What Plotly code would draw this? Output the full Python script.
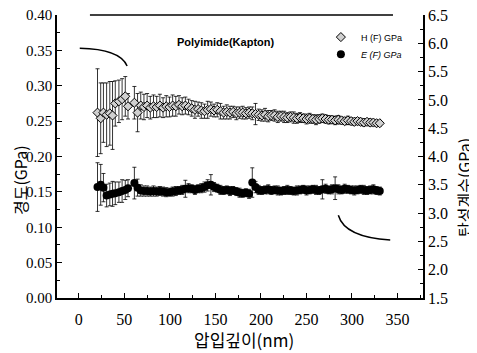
import plotly.graph_objects as go

depth = [20.5, 24, 27, 30.5, 34, 37, 40, 44, 47.5, 51, 54,
         61, 64.5, 68, 71.5, 75, 78.5, 82, 85.5, 89, 92.5,
         96, 99.5, 103, 106.5, 110, 113.5, 117, 120.5, 124, 127.5,
         131, 134.5, 138, 141.5, 145, 148.5, 152, 155.5, 159, 162.5,
         166, 169.5, 173, 176.5, 180, 183.5, 187, 190.5, 194, 197.5,
         201, 204.5, 208, 211.5, 215, 218.5, 222, 225.5, 229, 232.5,
         236, 239.5, 243, 246.5, 250, 253.5, 257, 260.5, 264, 267.5,
         271, 274.5, 278, 281.5, 285, 288.5, 292, 295.5, 299, 302.5,
         306, 309.5, 313, 316.5, 320, 323.5, 327, 330.5]

hardness = [0.262, 0.254, 0.262, 0.259, 0.261, 0.258, 0.275, 0.278, 0.281, 0.285, 0.271,
            0.276, 0.262, 0.272, 0.270, 0.272, 0.269, 0.271, 0.270, 0.272, 0.269,
            0.271, 0.270, 0.272, 0.271, 0.273, 0.271, 0.272, 0.270, 0.268, 0.266,
            0.267, 0.265, 0.264, 0.266, 0.267, 0.265, 0.266, 0.264, 0.262, 0.263,
            0.262, 0.263, 0.261, 0.262, 0.262, 0.261, 0.262, 0.261, 0.260, 0.259,
            0.258, 0.259, 0.257, 0.258, 0.258, 0.256, 0.257, 0.256, 0.255, 0.256,
            0.255, 0.254, 0.255, 0.254, 0.253, 0.254, 0.253, 0.252, 0.253, 0.254,
            0.253, 0.252, 0.252, 0.251, 0.252, 0.251, 0.250, 0.251, 0.250, 0.249,
            0.250, 0.249, 0.248, 0.249, 0.248, 0.248, 0.247, 0.247]

hardness_err = [0.062, 0.050, 0.042, 0.045, 0.045, 0.048, 0.032, 0.030, 0.029, 0.028, 0.018,
                0.023, 0.027, 0.019, 0.018, 0.017, 0.016, 0.016, 0.015, 0.016, 0.014,
                0.015, 0.014, 0.015, 0.014, 0.013, 0.012, 0.012, 0.011, 0.011, 0.012,
                0.010, 0.011, 0.010, 0.012, 0.010, 0.009, 0.010, 0.011, 0.009, 0.010,
                0.009, 0.008, 0.009, 0.008, 0.009, 0.008, 0.008, 0.009, 0.015, 0.008,
                0.008, 0.009, 0.008, 0.007, 0.008, 0.008, 0.007, 0.008, 0.007, 0.007,
                0.008, 0.007, 0.007, 0.006, 0.007, 0.007, 0.006, 0.007, 0.006, 0.006,
                0.006, 0.006, 0.005, 0.006, 0.006, 0.005, 0.005, 0.006, 0.005, 0.005,
                0.005, 0.005, 0.005, 0.004, 0.005, 0.004, 0.004, 0.004]

modulus = [3.46, 3.50, 3.45, 3.31, 3.33, 3.34, 3.35, 3.37, 3.39, 3.41, 3.44,
           3.53, 3.45, 3.40, 3.39, 3.39, 3.38, 3.39, 3.38, 3.39, 3.38,
           3.37, 3.37, 3.38, 3.39, 3.40, 3.41, 3.43, 3.44, 3.43, 3.41,
           3.43, 3.44, 3.46, 3.49, 3.50, 3.46, 3.44, 3.41, 3.40, 3.41,
           3.39, 3.40, 3.38, 3.36, 3.35, 3.36, 3.34, 3.54, 3.46, 3.41,
           3.40, 3.41, 3.42, 3.40, 3.41, 3.40, 3.39, 3.40, 3.41, 3.40,
           3.39, 3.40, 3.41, 3.42, 3.40, 3.41, 3.42, 3.41, 3.40, 3.42,
           3.43, 3.41, 3.42, 3.44, 3.42, 3.41, 3.43, 3.42, 3.41, 3.40,
           3.41, 3.42, 3.41, 3.40, 3.41, 3.42, 3.40, 3.39]

modulus_err = [0.43, 0.36, 0.25, 0.20, 0.20, 0.22, 0.20, 0.18, 0.20, 0.17, 0.15,
               0.28, 0.15, 0.10, 0.09, 0.09, 0.08, 0.09, 0.08, 0.08, 0.08,
               0.08, 0.07, 0.08, 0.08, 0.07, 0.08, 0.15, 0.08, 0.07, 0.08,
               0.07, 0.08, 0.09, 0.10, 0.18, 0.08, 0.07, 0.08, 0.07, 0.07,
               0.08, 0.07, 0.07, 0.08, 0.07, 0.07, 0.08, 0.26, 0.10, 0.08,
               0.07, 0.07, 0.08, 0.07, 0.07, 0.08, 0.07, 0.07, 0.08, 0.07,
               0.07, 0.08, 0.07, 0.07, 0.08, 0.07, 0.07, 0.08, 0.07, 0.17,
               0.08, 0.07, 0.08, 0.20, 0.08, 0.07, 0.08, 0.07, 0.07, 0.08,
               0.07, 0.07, 0.08, 0.07, 0.07, 0.08, 0.07, 0.07]

x_ticks = [0, 50, 100, 150, 200, 250, 300, 350]
h_ticks = [0.00, 0.05, 0.10, 0.15, 0.20, 0.25, 0.30, 0.35, 0.40]
e_ticks = [1.5, 2.0, 2.5, 3.0, 3.5, 4.0, 4.5, 5.0, 5.5, 6.0, 6.5]

SERIF = "Liberation Serif"
KR = "Noto Sans CJK KR"

fig = go.Figure()
fig.add_trace(go.Scatter(
    x=depth, y=hardness, mode="markers", name="H (F) GPa",
    marker=dict(symbol="diamond", size=7, color="#d0d0d0",
                line=dict(color="black", width=1)),
    error_y=dict(type="data", array=hardness_err, color="black",
                 thickness=0.8, width=2),
    legend="legend",
))
fig.add_trace(go.Scatter(
    x=depth, y=modulus, mode="markers", name="<i>E (F) GPa</i>",
    marker=dict(symbol="circle", size=8, color="black"),
    error_y=dict(type="data", array=modulus_err, color="black",
                 thickness=0.8, width=2),
    yaxis="y2", legend="legend2",
))

axis_common = dict(showgrid=False, zeroline=False, showline=True,
                   linecolor="black", linewidth=1.5, ticks="inside",
                   ticklen=5, tickwidth=1.2, tickcolor="black",
                   ticklabeloverflow="allow")

# the page body has an 8px margin: figure is smaller, margins shifted
fig.update_layout(
    width=469, height=345,
    margin=dict(l=49, r=54, t=7, b=55, autoexpand=False),
    paper_bgcolor="white", plot_bgcolor="white",
    showlegend=True,
    xaxis=dict(range=[-24, 378], tickvals=x_ticks,
               tickfont=dict(family=SERIF, size=16, color="black"),
               minor=dict(ticks="inside", ticklen=3, dtick=25, tick0=0,
                          tickcolor="black", tickwidth=1),
               ticklabelstandoff=6,
               **axis_common),
    xaxis2=dict(range=[-24, 378], overlaying="x", side="top", anchor="y",
                tickvals=x_ticks, showticklabels=False, showgrid=False,
                zeroline=False, showline=False, ticks="inside", ticklen=5,
                tickwidth=1.2, tickcolor="black",
                minor=dict(ticks="inside", ticklen=3, dtick=25, tick0=0,
                           tickcolor="black", tickwidth=1)),
    yaxis=dict(range=[0, 0.40], tickvals=h_ticks, tickformat=".2f",
               tickfont=dict(family=SERIF, size=15, color="black"),
               minor=dict(ticks="inside", ticklen=3, dtick=0.025, tick0=0,
                          tickcolor="black", tickwidth=1),
               **axis_common),
    yaxis2=dict(range=[1.5, 6.5], tickvals=e_ticks, tickformat=".1f",
                overlaying="y", side="right", anchor="x",
                tickfont=dict(family=SERIF, size=16, color="black"),
                minor=dict(ticks="inside", ticklen=3, dtick=0.25, tick0=1.5,
                           tickcolor="black", tickwidth=1),
                **axis_common),
    legend=dict(x=0.721, y=0.922, xanchor="left", yanchor="middle",
                bgcolor="rgba(0,0,0,0)",
                font=dict(family="Liberation Sans", size=9, color="black")),
    legend2=dict(x=0.721, y=0.861, xanchor="left", yanchor="middle",
                 bgcolor="rgba(0,0,0,0)",
                 font=dict(family="Liberation Sans", size=9, color="black")),
)

# top frame line (partial, as in the scan)
fig.add_shape(type="line", xref="paper", yref="paper",
              x0=0.09, x1=0.918, y0=1, y1=1,
              line=dict(color="black", width=1.3))

# curved pointer lines
fig.add_shape(type="path", xref="x", yref="y",
              path="M 1,0.353 Q 45,0.352 53,0.328",
              line=dict(color="black", width=1.5))
fig.add_shape(type="path", xref="x", yref="y",
              path="M 285,0.117 Q 292,0.086 342,0.082",
              line=dict(color="black", width=1.5))

fig.add_annotation(text="<b>Polyimide(Kapton)</b>", xref="paper", yref="paper",
                   x=(226 - 57) / 366, y=(298 - 42) / 283,
                   showarrow=False, xanchor="center", yanchor="middle",
                   font=dict(family="Liberation Sans", size=11, color="black"))

fig.add_annotation(text="압입깊이(nm)", xref="paper", yref="paper",
                   x=(244 - 57) / 366, y=(298 - 339) / 283,
                   showarrow=False, xanchor="center", yanchor="middle",
                   font=dict(family=KR, size=17, color="black"))
fig.add_annotation(text="경도(GPa)", xref="paper", yref="paper",
                   x=(20 - 57) / 366, y=(298 - 180) / 283, textangle=-90,
                   showarrow=False, xanchor="center", yanchor="middle",
                   font=dict(family=KR, size=16, color="black"))
fig.add_annotation(text="탄성계수(GPa)", xref="paper", yref="paper",
                   x=(464 - 57) / 366, y=(298 - 188) / 283, textangle=-90,
                   showarrow=False, xanchor="center", yanchor="middle",
                   font=dict(family=KR, size=16, color="black"))

fig.write_html("out.html")
